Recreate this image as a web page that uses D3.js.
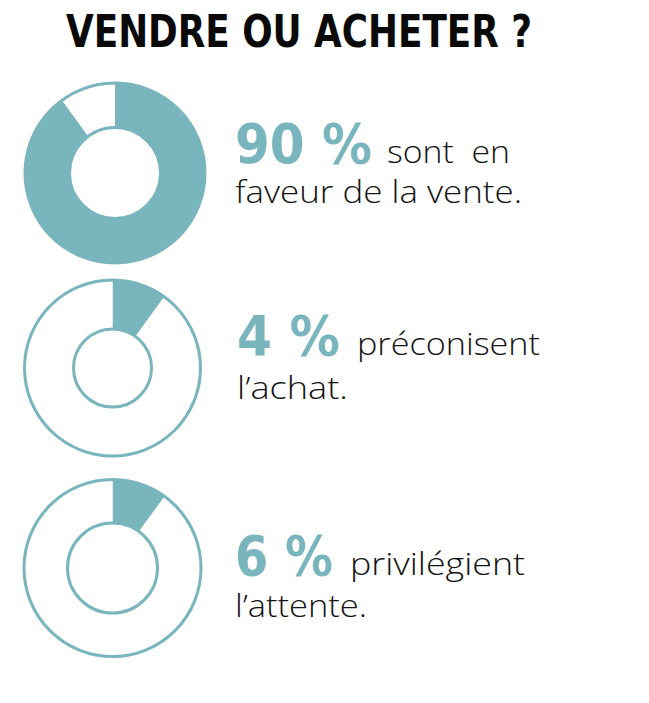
<!DOCTYPE html>
<html>
<head>
<meta charset="utf-8">
<script src="https://cdn.jsdelivr.net/npm/d3@7"></script>
<style>
  html, body { margin: 0; padding: 0; background: #ffffff; }
  svg { display: block; }
</style>
</head>
<body>
<svg id="chart" width="649" height="703"></svg>
<script>
// ---- data ----
const title = "VENDRE OU ACHETER ?";
const percentLabels = [90, 4, 6];                       // printed values
const drawnShares = [90, 10, 10];                       // share of the ring filled, as drawn
const firstLines = ["sont  en", "préconisent", "privilégient"];
const secondLines = ["faveur de la vente.", "l\u2019achat.", "l\u2019attente."];

// ---- layout / style (not data) ----
const TEAL = "#79b5bc";
const INK = "#141414";
const layout = [
  { cx: 115,   cy: 173, R: 90,   r: 45.5, numX: 235, base1: 163, base2: 203, numW: 137, t1X: 387, t1W: 123, t2W: 287 },
  { cx: 112.5, cy: 368, R: 88,   r: 39,   numX: 237, base1: 355, base2: 399, numW: 103, t1X: 357, t1W: 183, t2W: 111 },
  { cx: 112.5, cy: 568, R: 88.5, r: 45,   numX: 235, base1: 575, base2: 617, numW: 98,  t1X: 350, t1W: 175, t2W: 132 }
];

const svg = d3.select("#chart");

svg.append("text")
  .attr("x", 66).attr("y", 47)
  .attr("font-family", "'DejaVu Sans Condensed', 'DejaVu Sans', sans-serif")
  .attr("font-weight", 700)
  .attr("font-size", 45)
  .attr("fill", "#0a0a0a")
  .attr("textLength", 466)
  .attr("lengthAdjust", "spacingAndGlyphs")
  .text(title);

const pie = d3.pie().sort(null).value(d => d);

drawnShares.forEach((share, i) => {
  const L = layout[i];
  const g = svg.append("g").attr("transform", `translate(${L.cx},${L.cy})`);
  const arc = d3.arc().innerRadius(L.r).outerRadius(L.R);
  g.selectAll("path")
    .data(pie([share, 100 - share]))
    .join("path")
    .attr("d", arc)
    .attr("fill", (d, j) => j === 0 ? TEAL : "#ffffff");
  [L.R, L.r].forEach(rad => {
    g.append("circle").attr("r", rad)
      .attr("fill", "none").attr("stroke", TEAL).attr("stroke-width", 3);
  });

  svg.append("text")
    .attr("x", L.numX).attr("y", L.base1)
    .attr("font-family", "'DejaVu Sans Condensed', 'DejaVu Sans', sans-serif")
    .attr("font-weight", 700)
    .attr("font-size", 56)
    .attr("fill", TEAL)
    .attr("textLength", L.numW)
    .attr("lengthAdjust", "spacingAndGlyphs")
    .text(percentLabels[i] + " %");

  svg.append("text")
    .attr("x", L.t1X).attr("y", L.base1)
    .attr("font-family", "'Open Sans', sans-serif")
    .attr("font-weight", 300)
    .attr("font-size", 31)
    .attr("fill", INK)
    .attr("textLength", L.t1W)
    .attr("lengthAdjust", "spacingAndGlyphs")
    .attr("xml:space", "preserve")
    .style("white-space", "pre")
    .text(firstLines[i]);

  svg.append("text")
    .attr("x", L.numX).attr("y", L.base2)
    .attr("font-family", "'Open Sans', sans-serif")
    .attr("font-weight", 300)
    .attr("font-size", 31)
    .attr("fill", INK)
    .attr("textLength", L.t2W)
    .attr("lengthAdjust", "spacingAndGlyphs")
    .text(secondLines[i]);
});
</script>
</body>
</html>
